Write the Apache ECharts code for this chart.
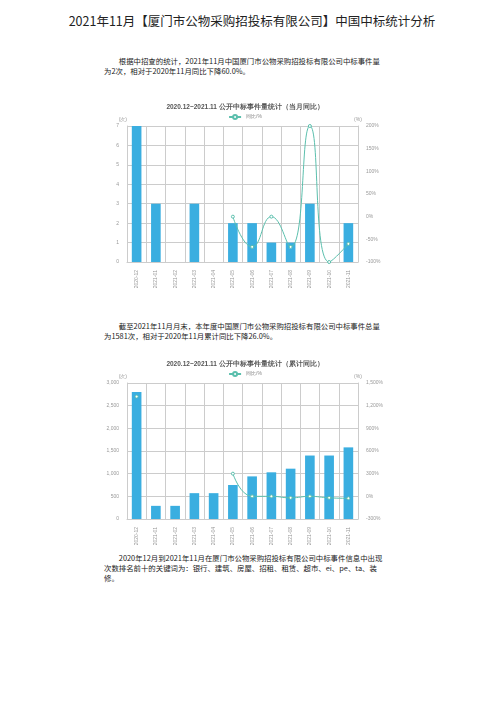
<!DOCTYPE html>
<html><head><meta charset="utf-8">
<script src="https://cdn.jsdelivr.net/npm/echarts@6/dist/echarts.min.js"></script>
<style>
body{margin:0;width:504px;height:713px;background:#fff;font-family:"Noto Sans CJK SC",sans-serif;color:#222;position:relative}
.t{position:absolute;left:0;width:504px;top:11px;text-align:center;font-size:12.5px}
.p{position:absolute;left:104px;width:282px;font-size:7.4px;line-height:10px}
.c{position:absolute;left:100px;width:290px}
</style></head><body>
<div class="t">2021年11月【厦门市公物采购招投标有限公司】中国中标统计分析</div>
<div class="p" style="top:56px">&emsp;&emsp;根据中招查的统计，2021年11月中国厦门市公物采购招投标有限公司中标事件量为2次，相对于2020年11月同比下降60.0%。</div>
<div class="c" id="c1" style="top:97px;height:195px"></div>
<div class="p" style="top:321px">&emsp;&emsp;截至2021年11月月末，本年度中国厦门市公物采购招投标有限公司中标事件总量为1581次，相对于2020年11月累计同比下降26.0%。</div>
<div class="c" id="c2" style="top:354px;height:195px"></div>
<div class="p" style="top:553px">&emsp;&emsp;2020年12月到2021年11月在厦门市公物采购招投标有限公司中标事件信息中出现次数排名前十的关键词为：银行、建筑、房屋、招租、租赁、超市、ei、pe、ta、装修。</div>
<script>
const months=["2020-12","2021-01","2021-02","2021-03","2021-04","2021-05","2021-06","2021-07","2021-08","2021-09","2021-10","2021-11"];
const monthly=[7,3,0,3,0,2,2,1,1,3,0,2];
const monthlyYoY=[null,null,null,null,null,0,-66.7,0,-66.7,200,-100,-60];
const cumul=[2800,290,290,570,570,750,940,1030,1110,1400,1400,1580];
const cumulYoY=[1320,null,null,null,null,300,0,0,-20,0,-20,-26];
function opt(title,bars,line,lmax,lint,rmin,rmax,rint,sep){
 const ax={fontSize:5,color:'#999'};
 return {animation:false,
 title:{text:title,left:'center',top:2,textStyle:{fontSize:6.5,color:'#555',fontWeight:'bold'}},
 legend:{top:12,itemWidth:12,itemHeight:5,textStyle:{fontSize:5,color:'#888'},data:['同比/%']},
 grid:{left:27,right:32,top:29,bottom:30},
 xAxis:{type:'category',data:months,axisLabel:{...ax,rotate:90},axisTick:{show:false},axisLine:{lineStyle:{color:'#ccc'}},splitLine:{show:true,lineStyle:{color:'#ccc'}}},
 yAxis:[{type:'value',name:'(次)',nameGap:4,nameTextStyle:{fontSize:5,color:'#999',align:'right'},min:0,max:lmax,interval:lint,axisLabel:{...ax,formatter:v=>sep?v.toLocaleString('en-US'):v},splitLine:{lineStyle:{color:'#ccc'}},axisLine:{show:true,lineStyle:{color:'#ccc'}}},
 {type:'value',name:'(%)',nameGap:4,nameTextStyle:{fontSize:5,color:'#999'},min:rmin,max:rmax,interval:rint,axisLabel:{...ax,formatter:'{value}%'},splitLine:{show:false},axisLine:{show:true,lineStyle:{color:'#ccc'}}}],
 series:[{type:'bar',data:bars,barWidth:'50%',itemStyle:{color:'#3aaee0'}},
 {name:'同比/%',type:'line',yAxisIndex:1,data:line,smooth:true,connectNulls:false,symbol:'circle',symbolSize:3,lineStyle:{color:'#5bbfad',width:1},itemStyle:{color:'#fff',borderColor:'#5bbfad',borderWidth:1}}]};
}
echarts.init(document.getElementById('c1')).setOption(opt('2020.12~2021.11 公开中标事件量统计（当月同比）',monthly,monthlyYoY,7,1,-100,200,50,false));
echarts.init(document.getElementById('c2')).setOption(opt('2020.12~2021.11 公开中标事件量统计（累计同比）',cumul,cumulYoY,3000,500,-300,1500,300,true));
</script></body></html>
